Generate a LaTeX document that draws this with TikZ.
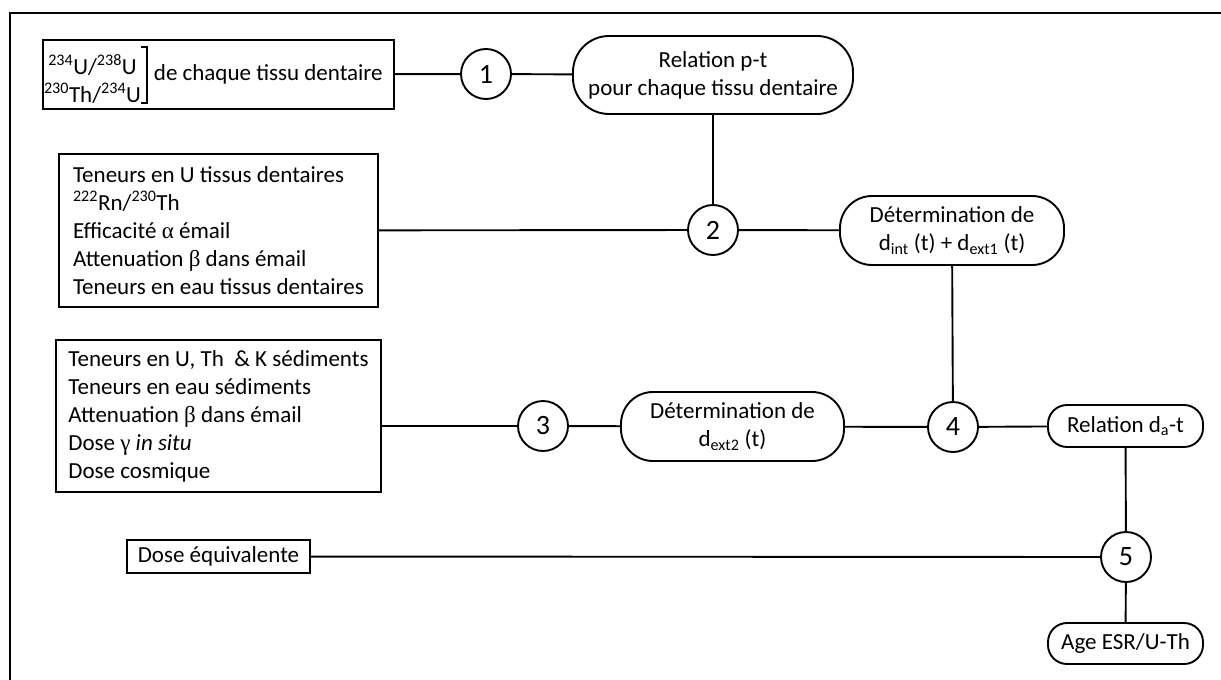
\documentclass[tikz,border=0pt]{standalone}
\usepackage{fontspec}
\setmainfont{Carlito}
\newfontfamily\grk{Liberation Serif}
\usepackage{tikz}
\usetikzlibrary{positioning}
\newcommand{\iso}[2]{\textsuperscript{#1}#2}
\newcommand{\dose}[1]{d\textsubscript{#1}}
\newcommand{\gr}[1]{{\grk #1}}

\begin{document}
\begin{tikzpicture}[x=1pt, y=-1pt, line width=1.9pt,
		every node/.style={font=\fontsize{23}{28}\selectfont, inner sep=0pt},
		box/.style={draw, rectangle},
		pill/.style={draw, rectangle, rounded corners=#1, align=center},
		num/.style={draw, circle, minimum size=50pt, font=\fontsize{28}{32}\selectfont}]
			\useasboundingbox (0,0) rectangle (1221,680);
			\draw (1221,13) -- (10,13) -- (10,680);
			% entrees
			\node[box, minimum width=351pt, minimum height=69pt] (ratios) at (218.5,74.5) {};
			\node[align=center] (isos) at (92.5,79) {\iso{234}{U}/\iso{238}{U}\\ \iso{230}{Th}/\iso{234}{U}};
			\node[anchor=base west] (ratiotxt) at (153,80) {de chaque tissu dentaire};
			\draw[line width=1.5pt] (141,47) -- (147,47) -- (147,103) -- (141,103);
			\node[box, minimum width=319pt, minimum height=153pt, align=left] (dent) at (218.5,230.5)
				{Teneurs en U tissus dentaires\\ \iso{222}{Rn}/\iso{230}{Th}\\ Efficacité \gr{α} émail\\ Attenuation \gr{β} dans émail\\ Teneurs en eau tissus dentaires};
			\node[box, minimum width=325pt, minimum height=152pt, align=left] (sed) at (218.5,416)
				{Teneurs en U, Th\ \ \& K sédiments\\ Teneurs en eau sédiments\\ Attenuation \gr{β} dans émail\\ Dose \gr{γ} \textit{in situ}\\ Dose cosmique};
			\node[box, minimum width=183pt, minimum height=33pt] (doseq) at (218.5,556.5) {Dose équivalente};
			% etapes
			\node[num] (n1) at (486,74) {1};
			\node[num] (n2) at (713,230) {2};
			\node[num] (n3) at (543,426) {3};
			\node[num] (n4) at (953,427) {4};
			\node[num] (n5) at (1126,557) {5};
			% resultats
			\node[pill=36pt, minimum width=280pt, minimum height=78pt] (relpt) at (713,75) {Relation p-t\\ pour chaque tissu dentaire};
			\node[pill=32pt, minimum width=224pt, minimum height=69pt] (det1) at (952,230.5) {Détermination de\\ \dose{int} (t) + \dose{ext1} (t)};
			\node[pill=32pt, minimum width=223pt, minimum height=69pt] (det2) at (732.5,426.5) {Détermination de\\ \dose{ext2} (t)};
			\node[pill=19pt, minimum width=155pt, minimum height=42pt] (relda) at (1125.5,426) {Relation \dose{a}-t};
			\node[pill=19pt, minimum width=155pt, minimum height=41pt] (age) at (1125.5,643.5) {Age ESR/U-Th};
			\path[-]
			(ratios) edge (n1)
			(n1) edge (relpt)
			(relpt) edge (n2)
			(dent) edge (n2)
			(n2) edge (det1)
			(det1) edge (n4)
			(sed.east |- n3) edge (n3)
			(n3) edge (det2)
			(det2) edge (n4)
			(n4) edge (relda)
			(relda) edge (n5)
			(doseq) edge (n5)
			(n5) edge (age);
\end{tikzpicture}
\end{document}
